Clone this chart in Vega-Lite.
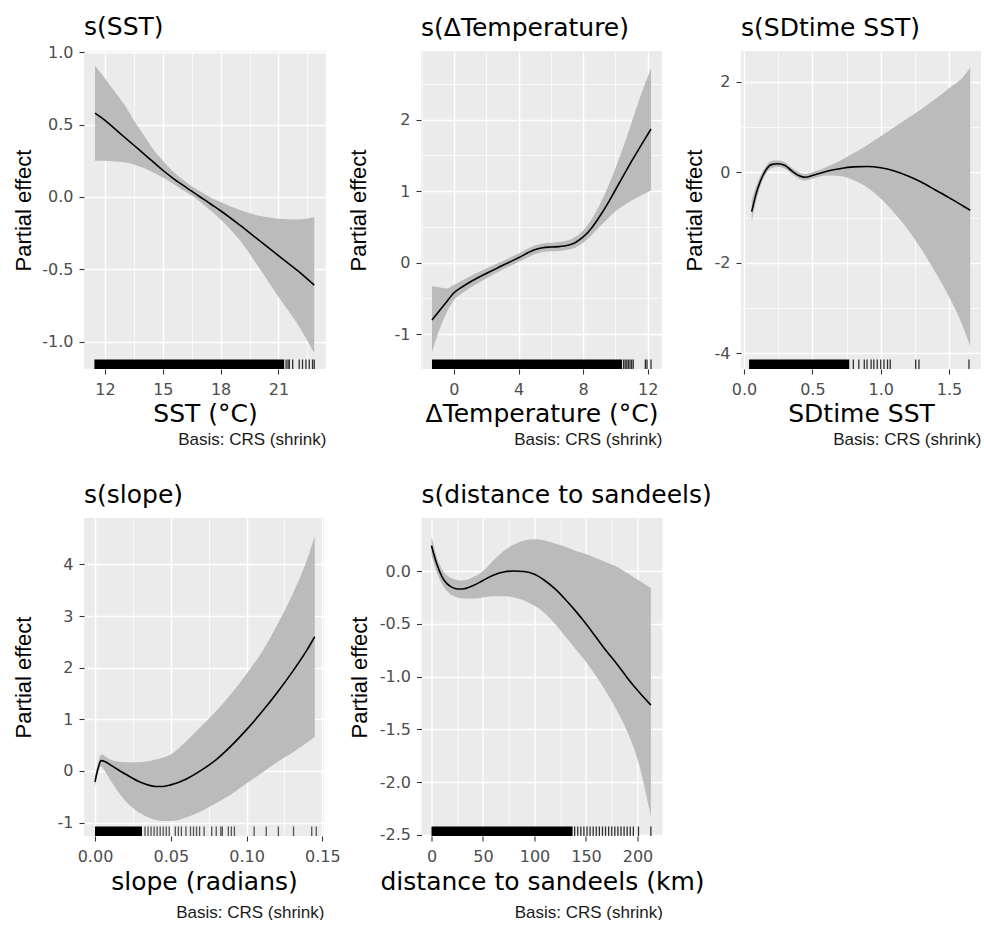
{
  "$schema": "https://vega.github.io/schema/vega-lite/v6.json",
  "padding": {"left": 12, "top": 15, "right": 0, "bottom": 0},
  "background": "white",
  "datasets": {
    "sst": [
      {"x": 11.48, "fit": 0.58, "lo": 0.25, "up": 0.91},
      {"x": 12, "fit": 0.53, "lo": 0.25, "up": 0.82},
      {"x": 12.5, "fit": 0.473, "lo": 0.245, "up": 0.73},
      {"x": 13, "fit": 0.415, "lo": 0.24, "up": 0.64},
      {"x": 13.5, "fit": 0.358, "lo": 0.225, "up": 0.53},
      {"x": 14, "fit": 0.30, "lo": 0.20, "up": 0.43},
      {"x": 14.5, "fit": 0.243, "lo": 0.17, "up": 0.33},
      {"x": 15, "fit": 0.185, "lo": 0.135, "up": 0.25},
      {"x": 15.5, "fit": 0.133, "lo": 0.095, "up": 0.18},
      {"x": 16, "fit": 0.085, "lo": 0.05, "up": 0.125},
      {"x": 16.5, "fit": 0.04, "lo": 0.01, "up": 0.075},
      {"x": 17, "fit": -0.005, "lo": -0.04, "up": 0.035},
      {"x": 17.5, "fit": -0.05, "lo": -0.095, "up": -0.005},
      {"x": 18, "fit": -0.095, "lo": -0.155, "up": -0.035},
      {"x": 19, "fit": -0.195, "lo": -0.30, "up": -0.09},
      {"x": 20, "fit": -0.30, "lo": -0.49, "up": -0.13},
      {"x": 21, "fit": -0.405, "lo": -0.69, "up": -0.15},
      {"x": 22, "fit": -0.51, "lo": -0.88, "up": -0.155},
      {"x": 22.86, "fit": -0.61, "lo": -1.08, "up": -0.14}
    ],
    "sst_dense": [{"x": 11.45, "x2": 21.3}],
    "sst_rug": [
      {"x": 21.4}, {"x": 21.5}, {"x": 21.57}, {"x": 21.74}, {"x": 22.08},
      {"x": 22.25}, {"x": 22.43}, {"x": 22.6}, {"x": 22.77}, {"x": 22.86}
    ],
    "dt": [
      {"x": -1.36, "fit": -0.80, "lo": -1.25, "up": -0.33},
      {"x": -1.0, "fit": -0.70, "lo": -1.00, "up": -0.34},
      {"x": -0.5, "fit": -0.56, "lo": -0.72, "up": -0.36},
      {"x": 0, "fit": -0.42, "lo": -0.52, "up": -0.31},
      {"x": 0.5, "fit": -0.34, "lo": -0.43, "up": -0.25},
      {"x": 1, "fit": -0.27, "lo": -0.35, "up": -0.19},
      {"x": 2, "fit": -0.15, "lo": -0.22, "up": -0.08},
      {"x": 3, "fit": -0.04, "lo": -0.10, "up": 0.02},
      {"x": 4, "fit": 0.07, "lo": 0.01, "up": 0.13},
      {"x": 5, "fit": 0.18, "lo": 0.12, "up": 0.24},
      {"x": 5.5, "fit": 0.21, "lo": 0.15, "up": 0.27},
      {"x": 6, "fit": 0.22, "lo": 0.16, "up": 0.28},
      {"x": 6.5, "fit": 0.225, "lo": 0.165, "up": 0.29},
      {"x": 7, "fit": 0.24, "lo": 0.18, "up": 0.31},
      {"x": 7.5, "fit": 0.28, "lo": 0.21, "up": 0.36},
      {"x": 8, "fit": 0.36, "lo": 0.28, "up": 0.45},
      {"x": 8.5, "fit": 0.48, "lo": 0.38, "up": 0.60},
      {"x": 9, "fit": 0.64, "lo": 0.50, "up": 0.80},
      {"x": 9.5, "fit": 0.82, "lo": 0.61, "up": 1.04},
      {"x": 10, "fit": 1.02, "lo": 0.72, "up": 1.32},
      {"x": 10.5, "fit": 1.22, "lo": 0.80, "up": 1.63},
      {"x": 11, "fit": 1.42, "lo": 0.87, "up": 1.96},
      {"x": 11.5, "fit": 1.61, "lo": 0.93, "up": 2.30},
      {"x": 12.2, "fit": 1.87, "lo": 1.01, "up": 2.72}
    ],
    "dt_dense": [{"x": -1.36, "x2": 10.4}],
    "dt_rug": [
      {"x": 10.5}, {"x": 10.6}, {"x": 10.7}, {"x": 10.8}, {"x": 10.9},
      {"x": 11.0}, {"x": 11.1}, {"x": 11.85}, {"x": 11.95}, {"x": 12.2}
    ],
    "sd": [
      {"x": 0.056, "fit": -0.87, "lo": -1.10, "up": -0.62},
      {"x": 0.1, "fit": -0.36, "lo": -0.50, "up": -0.22},
      {"x": 0.15, "fit": 0.0, "lo": -0.09, "up": 0.09},
      {"x": 0.2, "fit": 0.17, "lo": 0.09, "up": 0.25},
      {"x": 0.25, "fit": 0.19, "lo": 0.12, "up": 0.26},
      {"x": 0.3, "fit": 0.15, "lo": 0.08, "up": 0.22},
      {"x": 0.35, "fit": 0.03, "lo": -0.04, "up": 0.10},
      {"x": 0.4, "fit": -0.07, "lo": -0.14, "up": 0.0},
      {"x": 0.45, "fit": -0.11, "lo": -0.18, "up": -0.04},
      {"x": 0.5, "fit": -0.07, "lo": -0.14, "up": 0.0},
      {"x": 0.6, "fit": 0.02, "lo": -0.07, "up": 0.11},
      {"x": 0.7, "fit": 0.08, "lo": -0.08, "up": 0.25},
      {"x": 0.8, "fit": 0.12, "lo": -0.17, "up": 0.42},
      {"x": 0.9, "fit": 0.13, "lo": -0.33, "up": 0.60},
      {"x": 1.0, "fit": 0.10, "lo": -0.58, "up": 0.80},
      {"x": 1.1, "fit": 0.03, "lo": -0.90, "up": 1.00},
      {"x": 1.2, "fit": -0.08, "lo": -1.27, "up": 1.20},
      {"x": 1.3, "fit": -0.22, "lo": -1.71, "up": 1.40},
      {"x": 1.4, "fit": -0.39, "lo": -2.21, "up": 1.62},
      {"x": 1.5, "fit": -0.56, "lo": -2.75, "up": 1.86},
      {"x": 1.6, "fit": -0.74, "lo": -3.40, "up": 2.10},
      {"x": 1.655, "fit": -0.84, "lo": -3.85, "up": 2.32}
    ],
    "sd_dense": [{"x": 0.037, "x2": 0.77}],
    "sd_rug": [
      {"x": 0.80}, {"x": 0.84}, {"x": 0.88}, {"x": 0.90}, {"x": 0.93},
      {"x": 0.95}, {"x": 0.975}, {"x": 1.0}, {"x": 1.024}, {"x": 1.05},
      {"x": 1.07}, {"x": 1.256}, {"x": 1.28}, {"x": 1.646}
    ],
    "slope": [
      {"x": 0, "fit": -0.21, "lo": -0.30, "up": -0.10},
      {"x": 0.002, "fit": 0.05, "lo": -0.05, "up": 0.15},
      {"x": 0.004, "fit": 0.20, "lo": 0.09, "up": 0.32},
      {"x": 0.006, "fit": 0.19, "lo": 0.02, "up": 0.30},
      {"x": 0.01, "fit": 0.12, "lo": -0.17, "up": 0.22},
      {"x": 0.02, "fit": -0.06, "lo": -0.58, "up": 0.17},
      {"x": 0.03, "fit": -0.22, "lo": -0.82, "up": 0.17},
      {"x": 0.04, "fit": -0.30, "lo": -0.95, "up": 0.22},
      {"x": 0.045, "fit": -0.30, "lo": -0.97, "up": 0.26},
      {"x": 0.05, "fit": -0.27, "lo": -0.97, "up": 0.32},
      {"x": 0.06, "fit": -0.16, "lo": -0.90, "up": 0.57},
      {"x": 0.07, "fit": 0.01, "lo": -0.78, "up": 0.86},
      {"x": 0.08, "fit": 0.22, "lo": -0.62, "up": 1.16},
      {"x": 0.09, "fit": 0.49, "lo": -0.45, "up": 1.50},
      {"x": 0.10, "fit": 0.80, "lo": -0.24, "up": 1.88},
      {"x": 0.11, "fit": 1.14, "lo": -0.04, "up": 2.30},
      {"x": 0.12, "fit": 1.51, "lo": 0.17, "up": 2.82},
      {"x": 0.13, "fit": 1.91, "lo": 0.35, "up": 3.40},
      {"x": 0.14, "fit": 2.35, "lo": 0.55, "up": 4.10},
      {"x": 0.145, "fit": 2.60, "lo": 0.66, "up": 4.55}
    ],
    "slope_dense": [{"x": 0, "x2": 0.031}],
    "slope_rug": [
      {"x": 0.033}, {"x": 0.035}, {"x": 0.037}, {"x": 0.039}, {"x": 0.041},
      {"x": 0.043}, {"x": 0.045}, {"x": 0.047}, {"x": 0.049}, {"x": 0.053},
      {"x": 0.055}, {"x": 0.057}, {"x": 0.06}, {"x": 0.063}, {"x": 0.065},
      {"x": 0.067}, {"x": 0.069}, {"x": 0.072}, {"x": 0.077}, {"x": 0.080},
      {"x": 0.083}, {"x": 0.084}, {"x": 0.088}, {"x": 0.090}, {"x": 0.092},
      {"x": 0.105}, {"x": 0.113}, {"x": 0.121}, {"x": 0.131}, {"x": 0.143},
      {"x": 0.146}
    ],
    "dist": [
      {"x": 0, "fit": 0.24, "lo": 0.15, "up": 0.33},
      {"x": 5, "fit": 0.07, "lo": -0.01, "up": 0.14},
      {"x": 10, "fit": -0.05, "lo": -0.12, "up": 0.02},
      {"x": 15, "fit": -0.12, "lo": -0.19, "up": -0.04},
      {"x": 20, "fit": -0.155, "lo": -0.23, "up": -0.07},
      {"x": 25, "fit": -0.17, "lo": -0.25, "up": -0.085},
      {"x": 30, "fit": -0.17, "lo": -0.26, "up": -0.09},
      {"x": 40, "fit": -0.14, "lo": -0.26, "up": -0.06},
      {"x": 50, "fit": -0.09, "lo": -0.25, "up": 0.0},
      {"x": 60, "fit": -0.04, "lo": -0.24, "up": 0.10},
      {"x": 70, "fit": -0.01, "lo": -0.24, "up": 0.19},
      {"x": 80, "fit": 0.0, "lo": -0.25, "up": 0.25},
      {"x": 90, "fit": -0.005, "lo": -0.28, "up": 0.29},
      {"x": 100, "fit": -0.03, "lo": -0.33, "up": 0.30},
      {"x": 110, "fit": -0.09, "lo": -0.40, "up": 0.29},
      {"x": 120, "fit": -0.17, "lo": -0.50, "up": 0.26},
      {"x": 130, "fit": -0.27, "lo": -0.62, "up": 0.23},
      {"x": 140, "fit": -0.38, "lo": -0.74, "up": 0.19},
      {"x": 150, "fit": -0.50, "lo": -0.86, "up": 0.16},
      {"x": 160, "fit": -0.63, "lo": -1.00, "up": 0.12},
      {"x": 170, "fit": -0.76, "lo": -1.15, "up": 0.08},
      {"x": 180, "fit": -0.88, "lo": -1.32, "up": 0.04},
      {"x": 190, "fit": -1.01, "lo": -1.52, "up": -0.02},
      {"x": 200, "fit": -1.13, "lo": -1.78, "up": -0.08},
      {"x": 213, "fit": -1.27, "lo": -2.33, "up": -0.16}
    ],
    "dist_dense": [{"x": 0, "x2": 137}],
    "dist_rug": [
      {"x": 139}, {"x": 142}, {"x": 145}, {"x": 148}, {"x": 151}, {"x": 154},
      {"x": 157}, {"x": 160}, {"x": 163}, {"x": 166}, {"x": 169}, {"x": 172},
      {"x": 175}, {"x": 178}, {"x": 181}, {"x": 184}, {"x": 187}, {"x": 190},
      {"x": 193}, {"x": 196}, {"x": 201}, {"x": 213}
    ]
  },
  "vconcat": [
    {
      "hconcat": [
        {
          "width": 242, "height": 318,
          "title": {"text": "s(SST)", "offset": 4},
          "resolve": {"axis": {"x": "independent"}},
          "layer": [
            {
              "data": {"name": "sst"},
              "mark": {"type": "area", "color": "#BBBBBB", "interpolate": "monotone"},
              "encoding": {
                "x": {"field": "x", "type": "quantitative", "scale": {"domain": [10.91, 23.47], "nice": false, "zero": false},
                  "axis": {"title": "SST (°C)", "values": [12, 13.5, 15, 16.5, 18, 19.5, 21, 22.5],
                    "labelExpr": "indexof([12,15,18,21], datum.value) >= 0 ? format(datum.value, 'd') : ''",
                    "tickOpacity": {"condition": {"test": "indexof([12,15,18,21], datum.value) < 0", "value": 0}, "value": 1},
                    "gridWidth": {"condition": {"test": "indexof([12,15,18,21], datum.value) >= 0", "value": 1.4}, "value": 0.7}}},
                "y": {"field": "lo", "type": "quantitative", "title": "Partial effect", "scale": {"domain": [-1.19, 1.01], "nice": false, "zero": false},
                  "axis": {"titlePadding": 6.4, "values": [-1, -0.75, -0.5, -0.25, 0, 0.25, 0.5, 0.75, 1],
                    "labelExpr": "indexof([-1,-0.5,0,0.5,1], datum.value) >= 0 ? replace(format(datum.value, '.1f'), '\u2212', '-') : ''",
                    "tickOpacity": {"condition": {"test": "indexof([-1,-0.5,0,0.5,1], datum.value) < 0", "value": 0}, "value": 1},
                    "gridWidth": {"condition": {"test": "indexof([-1,-0.5,0,0.5,1], datum.value) >= 0", "value": 1.4}, "value": 0.7}}},
                "y2": {"field": "up"}
              }
            },
            {
              "data": {"name": "sst"},
              "mark": {"type": "line", "color": "#000000", "strokeWidth": 1.6, "interpolate": "monotone"},
              "encoding": {
                "x": {"field": "x", "type": "quantitative", "axis": {"orient": "bottom", "offset": 62, "title": "Basis: CRS (shrink)", "titleAnchor": "end", "titleFont": "Liberation Sans", "titleFontSize": 17, "titlePadding": 0, "titleColor": "#1A1A1A", "labels": false, "ticks": false, "domain": false, "grid": false}},
                "y": {"field": "fit", "type": "quantitative", "title": "Partial effect"}
              }
            },
            {
              "data": {"name": "sst_dense"},
              "mark": {"type": "rect", "color": "#000000"},
              "encoding": {
                "x": {"field": "x", "type": "quantitative", "axis": null},
                "x2": {"field": "x2"},
                "y": {"datum": -1.19, "type": "quantitative", "title": "Partial effect"},
                "y2": {"datum": -1.124}
              }
            },
            {
              "data": {"name": "sst_rug"},
              "mark": {"type": "rule", "color": "#000000", "strokeWidth": 1.3, "opacity": 0.8},
              "encoding": {
                "x": {"field": "x", "type": "quantitative", "axis": null},
                "y": {"datum": -1.19, "type": "quantitative", "title": "Partial effect"},
                "y2": {"datum": -1.124}
              }
            }
          ]
        },
        {
          "width": 241, "height": 318,
          "title": {"text": "s(ΔTemperature)", "offset": 10},
          "resolve": {"axis": {"x": "independent"}},
          "layer": [
            {
              "data": {"name": "dt"},
              "mark": {"type": "area", "color": "#BBBBBB", "interpolate": "monotone"},
              "encoding": {
                "x": {"field": "x", "type": "quantitative", "scale": {"domain": [-2.04, 12.88], "nice": false, "zero": false},
                  "axis": {"title": "ΔTemperature (°C)", "values": [-2, 0, 2, 4, 6, 8, 10, 12],
                    "labelExpr": "indexof([0,4,8,12], datum.value) >= 0 ? format(datum.value, 'd') : ''",
                    "tickOpacity": {"condition": {"test": "indexof([0,4,8,12], datum.value) < 0", "value": 0}, "value": 1},
                    "gridWidth": {"condition": {"test": "indexof([0,4,8,12], datum.value) >= 0", "value": 1.4}, "value": 0.7}}},
                "y": {"field": "lo", "type": "quantitative", "title": "Partial effect", "scale": {"domain": [-1.486, 2.96], "nice": false, "zero": false},
                  "axis": {"titlePadding": 23.4, "values": [-1, -0.5, 0, 0.5, 1, 1.5, 2, 2.5],
                    "labelExpr": "indexof([-1,0,1,2], datum.value) >= 0 ? replace(format(datum.value, 'd'), '\u2212', '-') : ''",
                    "tickOpacity": {"condition": {"test": "indexof([-1,0,1,2], datum.value) < 0", "value": 0}, "value": 1},
                    "gridWidth": {"condition": {"test": "indexof([-1,0,1,2], datum.value) >= 0", "value": 1.4}, "value": 0.7}}},
                "y2": {"field": "up"}
              }
            },
            {
              "data": {"name": "dt"},
              "mark": {"type": "line", "color": "#000000", "strokeWidth": 1.6, "interpolate": "monotone"},
              "encoding": {
                "x": {"field": "x", "type": "quantitative", "axis": {"orient": "bottom", "offset": 62, "title": "Basis: CRS (shrink)", "titleAnchor": "end", "titleFont": "Liberation Sans", "titleFontSize": 17, "titlePadding": 0, "titleColor": "#1A1A1A", "labels": false, "ticks": false, "domain": false, "grid": false}},
                "y": {"field": "fit", "type": "quantitative", "title": "Partial effect"}
              }
            },
            {
              "data": {"name": "dt_dense"},
              "mark": {"type": "rect", "color": "#000000"},
              "encoding": {
                "x": {"field": "x", "type": "quantitative", "axis": null},
                "x2": {"field": "x2"},
                "y": {"datum": -1.486, "type": "quantitative", "title": "Partial effect"},
                "y2": {"datum": -1.353}
              }
            },
            {
              "data": {"name": "dt_rug"},
              "mark": {"type": "rule", "color": "#000000", "strokeWidth": 1.3, "opacity": 0.8},
              "encoding": {
                "x": {"field": "x", "type": "quantitative", "axis": null},
                "y": {"datum": -1.486, "type": "quantitative", "title": "Partial effect"},
                "y2": {"datum": -1.353}
              }
            }
          ]
        },
        {
          "width": 240, "height": 318,
          "title": {"text": "s(SDtime SST)", "offset": 10},
          "resolve": {"axis": {"x": "independent"}},
          "layer": [
            {
              "data": {"name": "sd"},
              "mark": {"type": "area", "color": "#BBBBBB", "interpolate": "monotone"},
              "encoding": {
                "x": {"field": "x", "type": "quantitative", "scale": {"domain": [-0.022, 1.734], "nice": false, "zero": false},
                  "axis": {"title": "SDtime SST", "values": [0, 0.25, 0.5, 0.75, 1, 1.25, 1.5],
                    "labelExpr": "indexof([0,0.5,1,1.5], datum.value) >= 0 ? format(datum.value, '.1f') : ''",
                    "tickOpacity": {"condition": {"test": "indexof([0,0.5,1,1.5], datum.value) < 0", "value": 0}, "value": 1},
                    "gridWidth": {"condition": {"test": "indexof([0,0.5,1,1.5], datum.value) >= 0", "value": 1.4}, "value": 0.7}}},
                "y": {"field": "lo", "type": "quantitative", "title": "Partial effect", "scale": {"domain": [-4.353, 2.685], "nice": false, "zero": false},
                  "axis": {"titlePadding": 8, "values": [-4, -3, -2, -1, 0, 1, 2],
                    "labelExpr": "indexof([-4,-2,0,2], datum.value) >= 0 ? replace(format(datum.value, 'd'), '\u2212', '-') : ''",
                    "tickOpacity": {"condition": {"test": "indexof([-4,-2,0,2], datum.value) < 0", "value": 0}, "value": 1},
                    "gridWidth": {"condition": {"test": "indexof([-4,-2,0,2], datum.value) >= 0", "value": 1.4}, "value": 0.7}}},
                "y2": {"field": "up"}
              }
            },
            {
              "data": {"name": "sd"},
              "mark": {"type": "line", "color": "#000000", "strokeWidth": 1.6, "interpolate": "monotone"},
              "encoding": {
                "x": {"field": "x", "type": "quantitative", "axis": {"orient": "bottom", "offset": 62, "title": "Basis: CRS (shrink)", "titleAnchor": "end", "titleFont": "Liberation Sans", "titleFontSize": 17, "titlePadding": 0, "titleColor": "#1A1A1A", "labels": false, "ticks": false, "domain": false, "grid": false}},
                "y": {"field": "fit", "type": "quantitative", "title": "Partial effect"}
              }
            },
            {
              "data": {"name": "sd_dense"},
              "mark": {"type": "rect", "color": "#000000"},
              "encoding": {
                "x": {"field": "x", "type": "quantitative", "axis": null},
                "x2": {"field": "x2"},
                "y": {"datum": -4.353, "type": "quantitative", "title": "Partial effect"},
                "y2": {"datum": -4.142}
              }
            },
            {
              "data": {"name": "sd_rug"},
              "mark": {"type": "rule", "color": "#000000", "strokeWidth": 1.3, "opacity": 0.8},
              "encoding": {
                "x": {"field": "x", "type": "quantitative", "axis": null},
                "y": {"datum": -4.353, "type": "quantitative", "title": "Partial effect"},
                "y2": {"datum": -4.142}
              }
            }
          ]
        }
      ],
      "spacing": 21
    },
    {
      "hconcat": [
        {
          "width": 240, "height": 318,
          "title": {"text": "s(slope)", "offset": 10},
          "resolve": {"axis": {"x": "independent"}},
          "layer": [
            {
              "data": {"name": "slope"},
              "mark": {"type": "area", "color": "#BBBBBB", "interpolate": "monotone"},
              "encoding": {
                "x": {"field": "x", "type": "quantitative", "scale": {"domain": [-0.00726, 0.1511], "nice": false, "zero": false},
                  "axis": {"title": "slope (radians)", "titlePadding": 5, "values": [0, 0.025, 0.05, 0.075, 0.1, 0.125, 0.15],
                    "labelExpr": "indexof([0,0.05,0.1,0.15], datum.value) >= 0 ? format(datum.value, '.2f') : ''",
                    "tickOpacity": {"condition": {"test": "indexof([0,0.05,0.1,0.15], datum.value) < 0", "value": 0}, "value": 1},
                    "gridWidth": {"condition": {"test": "indexof([0,0.05,0.1,0.15], datum.value) >= 0", "value": 1.4}, "value": 0.7}}},
                "y": {"field": "lo", "type": "quantitative", "title": "Partial effect", "scale": {"domain": [-1.26, 4.9], "nice": false, "zero": false},
                  "axis": {"titlePadding": 21.6, "values": [-1, -0.5, 0, 0.5, 1, 1.5, 2, 2.5, 3, 3.5, 4, 4.5],
                    "labelExpr": "indexof([-1,0,1,2,3,4], datum.value) >= 0 ? replace(format(datum.value, 'd'), '\u2212', '-') : ''",
                    "tickOpacity": {"condition": {"test": "indexof([-1,0,1,2,3,4], datum.value) < 0", "value": 0}, "value": 1},
                    "gridWidth": {"condition": {"test": "indexof([-1,0,1,2,3,4], datum.value) >= 0", "value": 1.4}, "value": 0.7}}},
                "y2": {"field": "up"}
              }
            },
            {
              "data": {"name": "slope"},
              "mark": {"type": "line", "color": "#000000", "strokeWidth": 1.6, "interpolate": "monotone"},
              "encoding": {
                "x": {"field": "x", "type": "quantitative", "axis": {"orient": "bottom", "offset": 68, "title": "Basis: CRS (shrink)", "titleAnchor": "end", "titleFont": "Liberation Sans", "titleFontSize": 17, "titlePadding": 0, "titleColor": "#1A1A1A", "labels": false, "ticks": false, "domain": false, "grid": false}},
                "y": {"field": "fit", "type": "quantitative", "title": "Partial effect"}
              }
            },
            {
              "data": {"name": "slope_dense"},
              "mark": {"type": "rect", "color": "#000000"},
              "encoding": {
                "x": {"field": "x", "type": "quantitative", "axis": null},
                "x2": {"field": "x2"},
                "y": {"datum": -1.26, "type": "quantitative", "title": "Partial effect"},
                "y2": {"datum": -1.075}
              }
            },
            {
              "data": {"name": "slope_rug"},
              "mark": {"type": "rule", "color": "#000000", "strokeWidth": 1.3, "opacity": 0.65},
              "encoding": {
                "x": {"field": "x", "type": "quantitative", "axis": null},
                "y": {"datum": -1.26, "type": "quantitative", "title": "Partial effect"},
                "y2": {"datum": -1.075}
              }
            }
          ]
        },
        {
          "width": 241, "height": 318,
          "title": {"text": "s(distance to sandeels)", "offset": 10},
          "resolve": {"axis": {"x": "independent"}},
          "layer": [
            {
              "data": {"name": "dist"},
              "mark": {"type": "area", "color": "#BBBBBB", "interpolate": "monotone"},
              "encoding": {
                "x": {"field": "x", "type": "quantitative", "scale": {"domain": [-9.7, 224.3], "nice": false, "zero": false},
                  "axis": {"title": "distance to sandeels (km)", "titlePadding": 5, "values": [0, 25, 50, 75, 100, 125, 150, 175, 200],
                    "labelExpr": "indexof([0,50,100,150,200], datum.value) >= 0 ? format(datum.value, 'd') : ''",
                    "tickOpacity": {"condition": {"test": "indexof([0,50,100,150,200], datum.value) < 0", "value": 0}, "value": 1},
                    "gridWidth": {"condition": {"test": "indexof([0,50,100,150,200], datum.value) >= 0", "value": 1.4}, "value": 0.7}}},
                "y": {"field": "lo", "type": "quantitative", "title": "Partial effect", "scale": {"domain": [-2.51, 0.502], "nice": false, "zero": false},
                  "axis": {"titlePadding": 7.9, "values": [-2.5, -2.25, -2, -1.75, -1.5, -1.25, -1, -0.75, -0.5, -0.25, 0, 0.25],
                    "labelExpr": "indexof([-2.5,-2,-1.5,-1,-0.5,0], datum.value) >= 0 ? replace(format(datum.value, '.1f'), '\u2212', '-') : ''",
                    "tickOpacity": {"condition": {"test": "indexof([-2.5,-2,-1.5,-1,-0.5,0], datum.value) < 0", "value": 0}, "value": 1},
                    "gridWidth": {"condition": {"test": "indexof([-2.5,-2,-1.5,-1,-0.5,0], datum.value) >= 0", "value": 1.4}, "value": 0.7}}},
                "y2": {"field": "up"}
              }
            },
            {
              "data": {"name": "dist"},
              "mark": {"type": "line", "color": "#000000", "strokeWidth": 1.6, "interpolate": "monotone"},
              "encoding": {
                "x": {"field": "x", "type": "quantitative", "axis": {"orient": "bottom", "offset": 68, "title": "Basis: CRS (shrink)", "titleAnchor": "end", "titleFont": "Liberation Sans", "titleFontSize": 17, "titlePadding": 0, "titleColor": "#1A1A1A", "labels": false, "ticks": false, "domain": false, "grid": false}},
                "y": {"field": "fit", "type": "quantitative", "title": "Partial effect"}
              }
            },
            {
              "data": {"name": "dist_dense"},
              "mark": {"type": "rect", "color": "#000000"},
              "encoding": {
                "x": {"field": "x", "type": "quantitative", "axis": null},
                "x2": {"field": "x2"},
                "y": {"datum": -2.51, "type": "quantitative", "title": "Partial effect"},
                "y2": {"datum": -2.42}
              }
            },
            {
              "data": {"name": "dist_rug"},
              "mark": {"type": "rule", "color": "#000000", "strokeWidth": 1.3, "opacity": 0.8},
              "encoding": {
                "x": {"field": "x", "type": "quantitative", "axis": null},
                "y": {"datum": -2.51, "type": "quantitative", "title": "Partial effect"},
                "y2": {"datum": -2.42}
              }
            }
          ]
        }
      ],
      "spacing": 6.5
    }
  ],
  "spacing": 36,
  "config": {
    "view": {"fill": "#EBEBEB", "stroke": null},
    "axis": {
      "labelFont": "DejaVu Sans", "labelFontSize": 16, "labelColor": "#4D4D4D",
      "tickColor": "#333333", "tickSize": 5, "tickWidth": 1.1, "domain": false,
      "gridColor": "#FFFFFF", "titleFontWeight": "normal", "titleColor": "#000000"
    },
    "axisX": {"titleFont": "DejaVu Sans", "titleFontSize": 25, "labelPadding": 7, "titlePadding": 4},
    "axisY": {"titleFont": "Liberation Sans", "titleFontSize": 22, "labelPadding": 6},
    "title": {"font": "DejaVu Sans", "fontSize": 25, "fontWeight": "normal", "anchor": "start", "frame": "group", "color": "#000000"}
  }
}
